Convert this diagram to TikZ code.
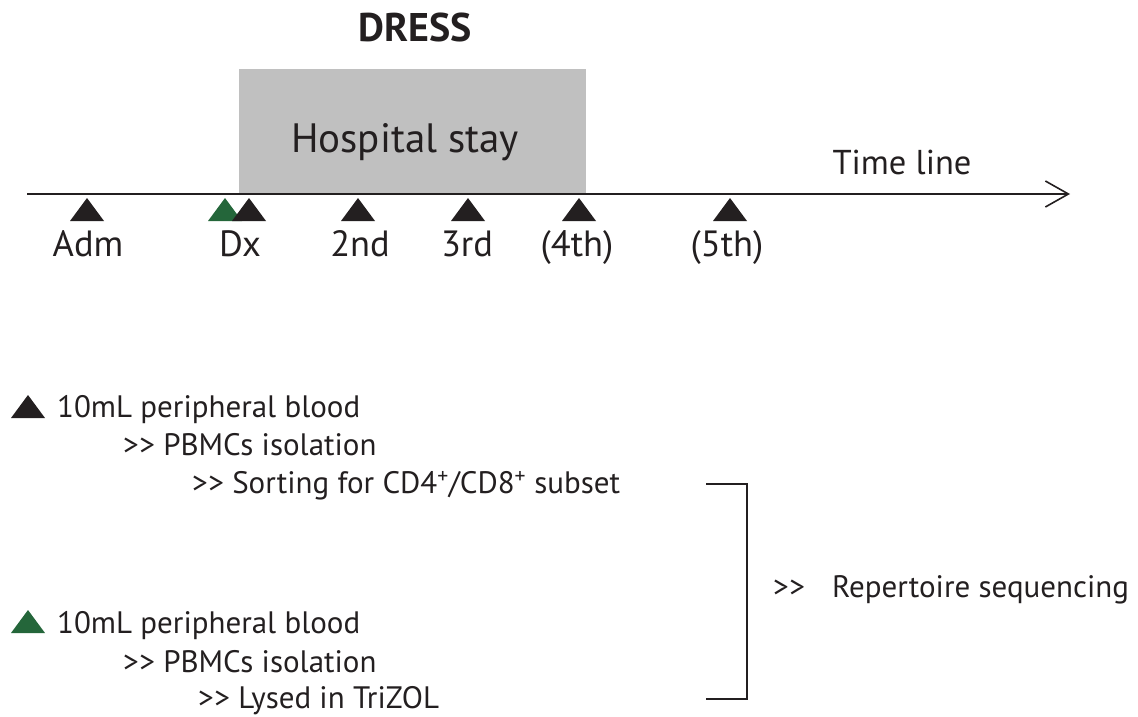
\documentclass[tikz,border=0pt]{standalone}
\usepackage{fontspec}
\setmainfont{PT Sans}
\usetikzlibrary{arrows.meta}
\definecolor{txt}{HTML}{231F20}
\definecolor{grn}{HTML}{24663A}
\definecolor{stay}{HTML}{C0C0C0}
\newcommand{\gtgt}{>\kern0.5pt>}
\tikzset{
  trimark/.pic={\fill[txt] (-17,0) -- (0,-23) -- (17,0) -- cycle;},
  trigreen/.pic={\fill[grn] (-17,0) -- (0,-23) -- (17,0) -- cycle;},
}
\begin{document}
\begin{tikzpicture}[x=1pt,y=-1pt,
  every node/.style={text=txt,inner sep=0pt},
  lbl/.style={font=\fontsize{36.5}{42}\selectfont, anchor=base},
  body/.style={font=\fontsize{31}{37}\selectfont, anchor=base west},
  line/.style={draw=txt,line width=2.3pt}]
\useasboundingbox (0,0) rectangle (1138,717);
% hospital stay box
\fill[stay] (239,69) rectangle (586,194);
\node[font=\bfseries\fontsize{40}{48}\selectfont, anchor=base] (dress) at (415,42) {DRESS};
\node[font=\fontsize{41}{48}\selectfont, anchor=base] (stay) at (405,152) {Hospital stay};
\node[font=\fontsize{34.5}{40}\selectfont, anchor=base] (tline) at (902,174) {Time line};
% time line
\coordinate (tl0) at (27,194);
\coordinate (tl1) at (1070,194);
\draw[line, -{Straight Barb[length=23pt,width=26pt,line width=1.6pt]}] (tl0) -- (tl1);
% triangles on the time line
\pic at (87,221) {trimark};
\pic at (225,221) {trigreen};
\pic at (249,221) {trimark};
\pic at (358,221) {trimark};
\pic at (468,221) {trimark};
\pic at (579,221) {trimark};
\pic at (730,221) {trimark};
% labels
\node[lbl] (adm) at (88,256) {Adm};
\node[lbl] (dx) at (240,256) {Dx};
\node[lbl] (s2) at (360,256) {2nd};
\node[lbl] (s3) at (467,256) {3rd};
\node[lbl] (s4) at (577,256) {(4th)};
\node[lbl] (s5) at (727,256) {(5th)};
% legend, black
\pic at (28,418) {trimark};
\node[body] (b1) at (57,417) {10mL peripheral blood};
\node[body] (b2) at (123,455) {\gtgt{} PBMCs isolation};
\node[body] (b3) at (192,493) {\gtgt{} Sorting for CD4\textsuperscript{+}/CD8\textsuperscript{+} subset};
% legend, green
\pic at (28,633) {trigreen};
\node[body] (g1) at (57,633) {10mL peripheral blood};
\node[body] (g2) at (123,672) {\gtgt{} PBMCs isolation};
\node[body] (g3) at (198,708) {\gtgt{} Lysed in TriZOL};
% bracket
\coordinate (k0) at (706,484);
\coordinate (k1) at (747,484);
\coordinate (k2) at (747,699);
\coordinate (k3) at (706,699);
\draw[line] (k0) -- (k1) -- (k2) -- (k3);
\node[body] (rgt) at (773,597) {\gtgt};
\node[body] (rep) at (832,597) {Repertoire sequencing};
\end{tikzpicture}
\end{document}
